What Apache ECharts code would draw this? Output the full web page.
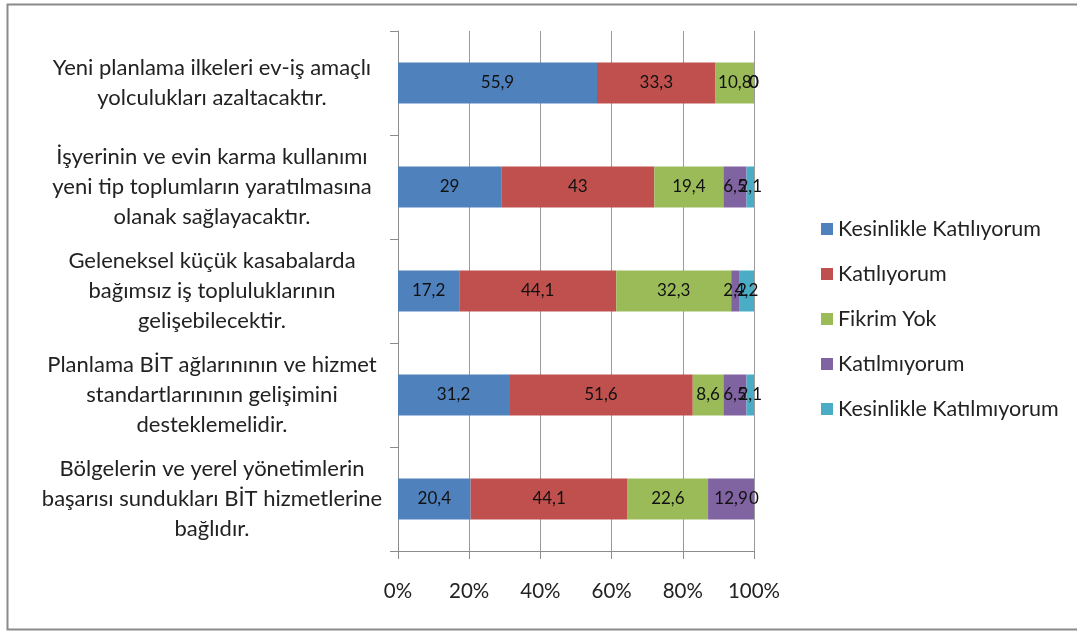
<!DOCTYPE html>
<html>
<head>
<meta charset="utf-8">
<script src="https://cdn.jsdelivr.net/npm/echarts@6/dist/echarts.min.js"></script>
<style>html,body{margin:0;padding:0;background:#fff;}#c{width:1077px;height:632px;}</style>
</head>
<body>
<div id="c"></div>
<script>
const categories = [
  "Yeni planlama ilkeleri ev-iş amaçlı\nyolculukları azaltacaktır.",
  "İşyerinin ve evin karma kullanımı\nyeni tip toplumların yaratılmasına\nolanak sağlayacaktır.",
  "Geleneksel küçük kasabalarda\nbağımsız iş topluluklarının\ngelişebilecektir.",
  "Planlama BİT ağlarınının ve hizmet\nstandartlarınının gelişimini\ndesteklemelidir.",
  "Bölgelerin ve yerel yönetimlerin\nbaşarısı sundukları BİT hizmetlerine\nbağlıdır."
];
const seriesNames = ["Kesinlikle Katılıyorum", "Katılıyorum", "Fikrim Yok", "Katılmıyorum", "Kesinlikle Katılmıyorum"];
const kesinlikleKatiliyorum = [55.9, 29, 17.2, 31.2, 20.4];
const katiliyorum = [33.3, 43, 44.1, 51.6, 44.1];
const fikrimYok = [10.8, 19.4, 32.3, 8.6, 22.6];
const katilmiyorum = [0, 6.5, 2.2, 6.5, 12.9];
const kesinlikleKatilmiyorum = [0, 2.1, 4.2, 2.1, 0];
const xTicks = [0, 20, 40, 60, 80, 100];

const colors = ["#4F81BD", "#C0504D", "#9BBB59", "#8064A2", "#4BACC6"];
const allData = [kesinlikleKatiliyorum, katiliyorum, fikrimYok, katilmiyorum, kesinlikleKatilmiyorum];
const FONT = "Lato";

const chart = echarts.init(document.getElementById('c'), null, {renderer: 'canvas'});
chart.setOption({
  animation: false,
  backgroundColor: '#ffffff',
  textStyle: {fontFamily: FONT},
  graphic: [{
    type: 'rect', silent: true, z: -1,
    shape: {x: 7.5, y: 4.5, width: 1100, height: 625},
    style: {fill: 'none', stroke: '#8a8a8a', lineWidth: 2}
  }],
  grid: {left: 398, right: 323, top: 31, bottom: 81, containLabel: false},
  legend: {
    orient: 'vertical', left: 816, top: 213,
    icon: 'rect', itemWidth: 12, itemHeight: 12, itemGap: 23,
    textStyle: {fontFamily: FONT, fontSize: 21.5, color: '#222'},
    data: seriesNames
  },
  xAxis: {
    type: 'value', min: xTicks[0], max: xTicks[xTicks.length - 1], interval: 20,
    axisLine: {show: true, lineStyle: {color: '#8c8c8c', width: 1}},
    axisTick: {show: true, length: 8, lineStyle: {color: '#8c8c8c'}},
    splitLine: {show: true, lineStyle: {color: '#9a9a9a', width: 1}},
    axisLabel: {formatter: '{value}%', fontFamily: FONT, fontSize: 20.5, color: '#222', margin: 30}
  },
  yAxis: {
    type: 'category', inverse: true, data: categories,
    axisLine: {show: true, lineStyle: {color: '#8c8c8c', width: 1}},
    axisTick: {show: true, length: 8, lineStyle: {color: '#8c8c8c'}},
    axisLabel: {fontFamily: FONT, fontSize: 22, color: '#222', align: 'center', margin: 186, lineHeight: 30}
  },
  series: seriesNames.map((name, i) => ({
    name: name, type: 'bar', stack: 'total', barWidth: 41,
    itemStyle: {color: colors[i]},
    label: {
      show: true, position: 'inside', fontFamily: FONT, fontSize: 17, color: '#111',
      formatter: p => String(p.value).replace('.', ',')
    },
    data: allData[i]
  }))
});
</script>
</body>
</html>
